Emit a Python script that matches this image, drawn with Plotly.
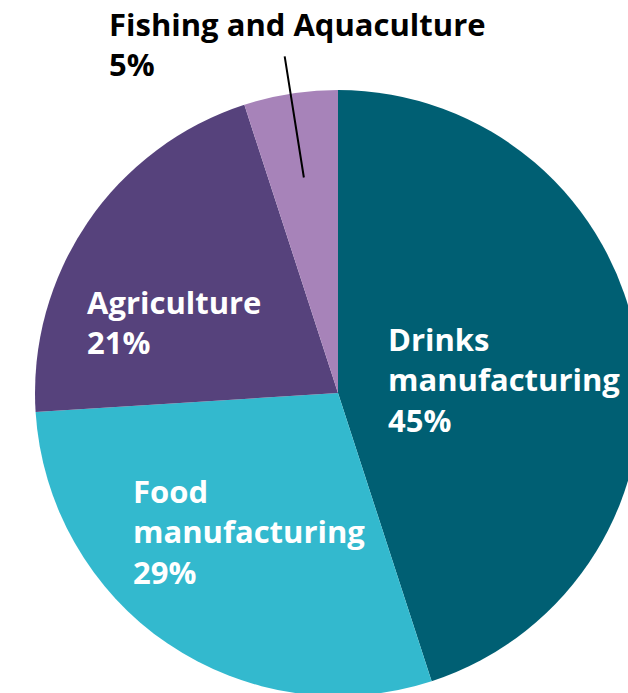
import math
import plotly.graph_objects as go

# Share of sector by sub-industry (%)
categories = ["Drinks manufacturing", "Food manufacturing", "Agriculture", "Fishing and Aquaculture"]
shares = [45, 29, 21, 5]
label_text = ["Drinks<br>manufacturing", "Food<br>manufacturing", "Agriculture", "Fishing and Aquaculture"]
colors = ["#005F73", "#33B9CE", "#56427C", "#A783B9"]

# Canvas is a little larger than the viewport so the pie can bleed off the right/bottom edges
W, H = 680, 700
CX, CY, R = 338, 393, 303          # pie centre and radius in pixels
FONT = "Open Sans"
FONT_SIZE = 31


def px_to_paper(px, py):
    return px / W, 1 - py / H


def mid_angles(values):
    total = sum(values)
    out, acc = [], 0.0
    for v in values:
        out.append((acc + v / 2) / total * 360.0)
        acc += v
    return out


def polar_px(angle_deg, frac):
    a = math.radians(angle_deg)
    return CX + frac * R * math.sin(a), CY - frac * R * math.cos(a)


fig = go.Figure(
    go.Pie(
        labels=categories,
        values=shares,
        sort=False,
        direction="clockwise",
        rotation=0,
        marker=dict(colors=colors, line=dict(width=0)),
        textinfo="none",
        hoverinfo="label+percent",
        showlegend=False,
        domain=dict(x=[(CX - R) / W, (CX + R) / W], y=[1 - (CY + R) / H, 1 - (CY - R) / H]),
    )
)

mids = mid_angles(shares)
annotations = []

# inside labels: (radial fraction, angular nudge) per slice
inside_place = {0: (0.55, 4.5), 1: (0.542, -1.45), 2: (0.589, -10.9)}
for i, (frac, nudge) in inside_place.items():
    px, py = polar_px(mids[i] + nudge, frac)
    x, y = px_to_paper(px, py)
    annotations.append(dict(
        x=x, y=y, xref="paper", yref="paper", xanchor="center", yanchor="middle",
        text=f"<b>{label_text[i]}<br>{shares[i]}%</b>", align="left", showarrow=False,
        font=dict(family=FONT, size=FONT_SIZE, color="white"),
    ))

# leader line for the small slice, running radially out of it
i = 3
tx, ty = polar_px(mids[i], 0.72)
hx, hy = polar_px(mids[i], 1.13)
x0, y0 = px_to_paper(tx, ty)
annotations.append(dict(
    x=x0, y=y0, xref="paper", yref="paper", text="", showarrow=True,
    arrowhead=0, arrowwidth=2, arrowcolor="black", ax=hx - tx, ay=hy - ty,
))
lx, ly = px_to_paper(107, 1)
annotations.append(dict(
    x=lx, y=ly, xref="paper", yref="paper", xanchor="left", yanchor="top",
    text=f"<b>{label_text[i]}<br>{shares[i]}%</b>", align="left", showarrow=False,
    font=dict(family=FONT, size=FONT_SIZE, color="black"),
))

fig.update_layout(
    width=W, height=H,
    margin=dict(l=0, r=0, t=0, b=0),
    paper_bgcolor="white",
    plot_bgcolor="white",
    annotations=annotations,
)

fig.write_html(
    "out.html",
    post_script="document.body.style.margin='0';document.body.style.overflow='hidden';",
)
